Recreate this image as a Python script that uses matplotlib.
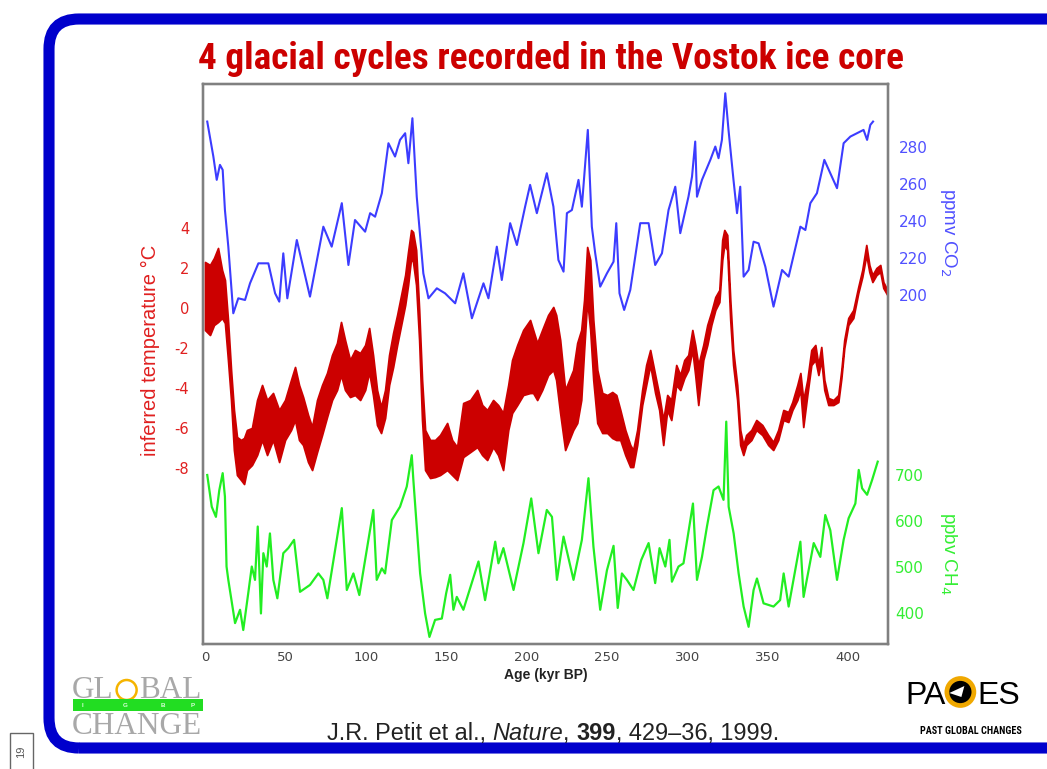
import matplotlib.pyplot as plt
from matplotlib import font_manager
from matplotlib.patches import FancyBboxPatch, Circle, Rectangle, Polygon

plt.rcParams["axes.unicode_minus"] = False

# ---------------------------------------------------------
# Vostok ice core records (age in kyr BP)
# ---------------------------------------------------------

co2_age = [
    1.4, 5.2, 7.3, 9.3, 11.0, 12.4, 14.5, 17.6, 20.7, 24.9,
    28.0, 33.2, 39.4, 43.6, 46.2, 48.7, 51.2, 57.1, 65.3, 73.6,
    78.8, 85.1, 89.2, 93.3, 99.6, 102.7, 105.8, 110.0, 114.1, 118.2,
    121.3, 124.5, 126.5, 129.0, 131.7, 135.8, 139.0, 144.2, 149.3, 155.6,
    160.7, 166.0, 173.2, 176.3, 181.5, 184.6, 189.8, 194.0, 199.1, 202.2,
    206.4, 212.6, 216.7, 219.8, 223.0, 225.1, 228.2, 232.3, 234.4, 238.1,
    240.6, 242.7, 245.8, 250.0, 254.1, 255.8, 257.8, 260.7, 264.5, 270.7,
    275.9, 280.0, 284.2, 288.3, 292.5, 295.6, 300.7, 302.9, 304.9, 306.0,
    309.1, 314.3, 317.4, 319.4, 321.5, 323.6, 325.6, 328.7, 330.9, 332.9,
    335.0, 338.1, 341.2, 344.3, 348.5, 353.6, 358.9, 363.0, 370.3, 373.4,
    376.5, 380.6, 385.2, 388.9, 393.1, 397.2, 401.4, 409.6, 411.8, 413.8, 415.5,
]
co2_ppmv = [
    293.7, 274.8, 262.2, 270.3, 267.6, 245.9, 226.1, 190.1, 198.2, 197.3,
    206.3, 217.1, 217.1, 200.9, 196.4, 222.5, 198.2, 229.7, 199.1, 236.9,
    226.1, 249.6, 216.2, 240.5, 234.2, 244.2, 242.3, 255.0, 282.0, 274.8,
    283.8, 287.4, 271.2, 295.5, 253.1, 211.7, 198.2, 203.6, 200.9, 195.5,
    211.7, 187.4, 206.3, 198.2, 226.1, 208.1, 238.8, 227.0, 247.7, 259.5,
    244.2, 265.8, 247.7, 218.9, 212.6, 244.2, 245.9, 262.2, 247.7, 289.2,
    236.9, 222.5, 204.5, 211.7, 218.0, 238.8, 200.9, 191.9, 202.7, 238.8,
    238.8, 216.2, 222.5, 245.9, 258.5, 233.4, 253.1, 263.9, 282.9, 253.1,
    262.2, 273.0, 280.2, 273.9, 283.8, 309.0, 289.2, 262.2, 244.2, 258.5,
    209.9, 213.5, 228.8, 227.9, 215.3, 193.7, 213.5, 209.9, 236.9, 235.1,
    249.6, 255.0, 273.0, 265.8, 257.7, 282.0, 285.6, 289.2, 283.8, 291.9, 293.7,
]

# temperature is high resolution: keep the upper / lower swing of the record
temp_age = [
    0.0, 3.1, 5.6, 8.1, 10.6, 12.4, 14.3, 16.2, 18.0, 19.9,
    22.4, 24.3, 26.1, 29.2, 32.4, 35.5, 38.6, 42.3, 46.1, 49.8,
    53.5, 56.0, 58.5, 61.0, 64.1, 66.6, 69.7, 72.8, 75.9, 79.0,
    82.1, 84.6, 87.1, 90.2, 93.3, 96.5, 99.6, 102.1, 104.5, 107.0,
    109.5, 112.0, 114.5, 117.0, 119.5, 122.0, 124.5, 126.3, 128.2, 129.4,
    131.3, 133.2, 135.0, 136.9, 140.0, 143.1, 146.2, 150.6, 153.7, 156.8,
    160.6, 165.0, 169.3, 172.4, 175.5, 179.2, 182.3, 185.4, 188.6, 191.0,
    194.2, 197.9, 202.2, 204.1, 206.6, 209.7, 213.4, 216.6, 218.4, 220.9,
    224.0, 226.5, 229.0, 231.5, 234.0, 235.8, 237.7, 239.6, 241.5, 244.0,
    247.1, 250.2, 253.3, 255.8, 258.3, 261.4, 264.5, 266.3, 268.8, 271.9,
    274.4, 276.9, 280.0, 282.5, 285.0, 287.5, 290.0, 293.1, 295.6, 298.1,
    300.6, 303.1, 304.9, 306.8, 309.9, 312.4, 314.9, 317.4, 319.9, 321.7,
    323.0, 324.8, 326.7, 328.5, 331.0, 332.9, 334.8, 336.6, 339.8, 342.9,
    346.6, 350.3, 353.4, 356.5, 359.7, 362.8, 365.3, 368.4, 370.3, 372.1,
    374.6, 377.1, 379.6, 381.5, 383.3, 385.2, 387.7, 390.8, 393.9, 395.8,
    397.6, 400.1, 403.2, 406.3, 408.8, 411.3, 413.2, 415.1, 417.6, 420.0,
    421.9, 424.4,
]
temp_upper = [
    2.3, 2.15, 2.5, 3.0, 1.9, 1.4, -0.6, -3.1, -5.1, -6.45,
    -6.6, -6.5, -6.1, -6.0, -4.6, -3.85, -4.6, -4.25, -5.1, -4.6,
    -3.6, -2.95, -3.85, -4.45, -5.35, -5.95, -4.6, -3.85, -3.25, -2.35,
    -1.75, -0.7, -1.6, -2.6, -2.1, -2.25, -1.85, -1.0, -2.35, -4.1,
    -4.95, -4.1, -2.35, -1.25, -0.35, 0.65, 1.65, 2.8, 3.9, 3.8,
    2.9, -0.1, -3.6, -6.1, -6.6, -6.6, -6.35, -5.75, -6.6, -6.95,
    -4.75, -4.6, -4.1, -4.85, -5.1, -4.6, -4.85, -5.25, -3.85, -2.6,
    -1.85, -1.1, -0.6, -1.1, -1.75, -1.1, -0.35, 0.05, -0.35, -1.6,
    -4.1, -3.6, -3.1, -1.75, -1.1, 0.4, 3.05, 2.4, -0.6, -3.1,
    -4.25, -4.35, -4.2, -4.35, -5.1, -6.1, -6.85, -7.1, -6.1, -4.1,
    -2.85, -2.1, -3.35, -4.35, -5.6, -4.35, -4.6, -2.85, -3.35, -2.6,
    -2.35, -1.1, -1.85, -2.85, -1.85, -0.85, -0.2, 0.55, 0.9, 3.4,
    3.9, 3.65, 0.4, -2.1, -3.85, -6.1, -6.85, -6.35, -6.1, -5.6,
    -5.85, -6.35, -6.7, -6.1, -5.1, -5.2, -4.7, -3.85, -3.25, -4.6,
    -3.6, -2.1, -1.85, -2.85, -1.95, -3.6, -4.5, -4.6, -4.35, -3.1,
    -1.6, -0.5, -0.1, 1.05, 1.9, 3.15, 2.15, 1.65, 2.0, 2.15,
    1.3, 0.9,
]
temp_lower = [
    -1.1, -1.35, -0.85, -0.7, -0.5, -0.75, -2.6, -4.6, -7.1, -8.35,
    -8.6, -8.8, -8.1, -7.85, -7.35, -6.6, -7.35, -6.6, -7.7, -6.6,
    -6.1, -5.6, -6.6, -6.85, -7.7, -8.1, -7.2, -6.35, -5.45, -4.6,
    -4.1, -3.35, -4.1, -4.45, -4.35, -4.6, -4.1, -3.2, -4.35, -5.85,
    -6.25, -5.5, -3.85, -2.95, -1.85, -0.85, 0.15, 1.15, 2.5, 2.3,
    1.15, -1.6, -5.6, -8.1, -8.5, -8.45, -8.35, -8.1, -8.35, -8.6,
    -7.45, -7.2, -6.95, -7.35, -7.6, -6.95, -7.35, -8.1, -6.1, -5.25,
    -4.85, -4.35, -4.25, -4.25, -4.6, -4.1, -3.35, -3.1, -3.6, -5.25,
    -7.1, -6.6, -6.1, -5.75, -4.6, -2.1, 0.4, -1.1, -3.6, -5.75,
    -6.25, -6.25, -6.5, -6.6, -6.6, -7.35, -7.95, -7.95, -6.85, -4.85,
    -3.85, -2.85, -4.25, -5.1, -6.85, -5.1, -5.6, -3.85, -4.1, -3.5,
    -3.1, -2.1, -3.35, -4.85, -2.6, -1.85, -0.85, -0.1, 0.3, 2.4,
    3.15, 2.9, -0.6, -2.85, -4.6, -6.85, -7.35, -6.85, -6.6, -6.1,
    -6.35, -6.85, -7.1, -6.6, -5.6, -5.7, -5.1, -4.6, -4.1, -5.95,
    -4.35, -2.85, -2.6, -3.35, -2.6, -4.1, -4.85, -4.85, -4.7, -3.5,
    -2.0, -0.85, -0.5, 0.75, 1.55, 2.65, 1.8, 1.3, 1.65, 1.8,
    1.0, 0.65,
]

ch4_age = [
    1.4, 4.2, 6.8, 8.9, 11.0, 12.4, 13.4, 14.5, 18.7, 21.8,
    23.8, 26.9, 29.1, 31.1, 32.8, 34.8, 36.3, 38.4, 40.4, 42.5,
    45.0, 48.7, 51.8, 55.4, 59.1, 65.3, 70.5, 73.6, 76.1, 85.1,
    88.2, 92.3, 96.0, 104.7, 106.8, 110.0, 112.0, 116.2, 121.3, 125.5,
    128.6, 129.6, 133.8, 136.9, 139.6, 143.1, 147.3, 150.0, 152.5, 154.5,
    156.6, 160.7, 170.1, 174.2, 180.5, 182.5, 185.6, 191.9, 198.1, 202.9,
    207.4, 212.6, 215.8, 218.9, 223.0, 229.2, 234.4, 238.5, 241.6, 245.8,
    250.0, 254.1, 256.7, 259.3, 262.4, 266.5, 271.3, 275.9, 280.0, 282.7,
    286.3, 288.9, 290.4, 294.5, 297.6, 303.5, 306.0, 309.1, 312.2, 316.3,
    319.4, 322.5, 324.2, 325.7, 328.8, 331.9, 335.0, 338.1, 341.2, 343.3,
    347.4, 353.6, 357.7, 359.9, 363.0, 370.3, 372.3, 378.6, 382.7, 385.8,
    388.9, 393.1, 397.2, 400.3, 404.5, 406.6, 408.7, 411.8, 414.9, 418.4,
]
ch4_ppbv = [
    700, 631, 609, 667, 704, 653, 501, 472, 378, 407,
    363, 443, 501, 472, 588, 399, 530, 501, 573, 472,
    432, 530, 541, 559, 446, 461, 486, 472, 432, 628,
    450, 486, 439, 624, 472, 497, 486, 602, 631, 675,
    743, 689, 486, 399, 348, 385, 388, 443, 483, 407,
    435, 407, 512, 428, 555, 508, 541, 450, 552, 649,
    530, 624, 609, 472, 566, 472, 559, 693, 544, 407,
    493, 546, 411, 486, 472, 450, 515, 552, 465, 541,
    501, 559, 468, 501, 508, 638, 472, 522, 588, 667,
    675, 646, 816, 631, 573, 486, 414, 370, 450, 475,
    421, 414, 428, 486, 414, 555, 435, 552, 522, 613,
    580, 472, 559, 606, 638, 711, 671, 657, 689, 729,
]

age_ticks = [0, 50, 100, 150, 200, 250, 300, 350, 400]
temp_ticks = [-8, -6, -4, -2, 0, 2, 4]
co2_ticks = [200, 220, 240, 260, 280]
ch4_ticks = [400, 500, 600, 700]

RED = "#cc0000"
BLUE = "#3c3cff"
GREEN = "#22ee22"
SANS = ["Liberation Sans", "DejaVu Sans"]
SERIF = ["Liberation Serif", "DejaVu Serif"]

# a condensed face for the headline if one is installed
installed = {f.name for f in font_manager.fontManager.ttflist}
narrow = [n for n in ["Liberation Sans Narrow", "DejaVu Sans Condensed",
                      "Roboto Condensed", "Open Sans Condensed"] if n in installed]
TITLE_FONT = narrow[:1] + SANS

W, H = 1047, 769

fig = plt.figure(figsize=(W / 100, H / 100), dpi=100)
fig.patch.set_facecolor("white")
px = fig.dpi_scale_trans  # inches; 1 inch = 100 px
renderer = fig.canvas.get_renderer()


def fy(y):
    # pixel row (from top) -> inches from bottom
    return (H - y) / 100


def width_px(t):
    return t.get_window_extent(renderer).width


# ---------------------------------------------------------
# slide frame
# ---------------------------------------------------------
frame = FancyBboxPatch((0.49, fy(748)), 11.0, (748 - 19) / 100,
                       boxstyle="round,pad=0,rounding_size=0.30",
                       transform=px, fill=False, ec="#0000cc", lw=8,
                       zorder=0)
fig.add_artist(frame)

fig.add_artist(Rectangle((0.10, fy(775)), 0.23, 0.42, transform=px,
                         fill=False, ec="#666666", lw=1))
fig.text(0.215, fy(752), "19", transform=px, rotation=90, ha="center",
         va="center", fontsize=8, color="#555555", family=SANS)

title = fig.text(551.5 / W, 1 - 59 / H,
                 "4 glacial cycles recorded in the Vostok ice core",
                 ha="center", va="center", fontsize=23, color=RED,
                 weight="semibold", family=TITLE_FONT)
title.set_fontsize(23 * 707 / width_px(title))

# ---------------------------------------------------------
# plot panel
# ---------------------------------------------------------
ax = fig.add_axes([203 / W, 1 - 644 / H, 685 / W, 560 / H])
ax.set_xlim(-1.24, 424.8)
ax.set_ylim(-16.8, 11.2)

ax.fill_between(temp_age, temp_lower, temp_upper, color=RED, lw=1.3,
                edgecolor=RED, zorder=3)

ax.set_xticks(age_ticks)
ax.set_yticks(temp_ticks)
ax.tick_params(axis="x", length=0, pad=5, labelsize=9.5, labelcolor="#444444")
ax.tick_params(axis="y", length=0, pad=10, labelsize=10.5, labelcolor="#e02020")
for lab in ax.get_yticklabels() + ax.get_xticklabels():
    lab.set_family(["DejaVu Sans"])
ax.set_xlabel("Age (kyr BP)", fontsize=10, weight="bold", color="#222222",
              family=SANS, labelpad=3)
ax.set_ylabel("inferred temperature °C", fontsize=14.5, color="#e02020",
              family=SANS)
ax.yaxis.set_label_coords(-0.077, 0.525)

ax_co2 = ax.twinx()
ax_co2.set_ylim(11.4, 314)
ax_co2.plot(co2_age, co2_ppmv, color=BLUE, lw=1.5, zorder=3)
ax_co2.set_yticks(co2_ticks)
ax_co2.tick_params(axis="y", length=0, pad=8, labelsize=11, labelcolor="#5050ff")
ax_co2.set_ylabel("ppmv CO$_2$", fontsize=13.5, color="#5050ff", rotation=-90,
                  family=SANS)
ax_co2.yaxis.set_label_coords(1.0876, 0.7357)

ax_ch4 = ax.twinx()
ax_ch4.set_ylim(332.6, 1550)
ax_ch4.plot(ch4_age, ch4_ppbv, color=GREEN, lw=1.6, zorder=3)
ax_ch4.set_yticks(ch4_ticks)
ax_ch4.tick_params(axis="y", length=0, pad=5, labelsize=11, labelcolor="#33ee33")
ax_ch4.set_ylabel("ppbv CH$_4$", fontsize=13.5, color="#33ee33", rotation=-90,
                  family=SANS)
ax_ch4.yaxis.set_label_coords(1.0876, 0.1625)

for lbl in (ax.yaxis.label, ax_co2.yaxis.label, ax_ch4.yaxis.label):
    lbl.set_rotation_mode("anchor")
    lbl.set_ha("center")
    lbl.set_va("center")

for a in (ax_co2, ax_ch4):
    for lab in a.get_yticklabels():
        lab.set_family(["DejaVu Sans"])

for a in (ax, ax_co2, ax_ch4):
    for sp in a.spines.values():
        sp.set_color("#808080")
        sp.set_linewidth(1.6)

# ---------------------------------------------------------
# logos and reference
# ---------------------------------------------------------
grey = "#a8a8a8"
gl = fig.text(0.72, fy(698), "GL", transform=px, fontsize=22.5, color=grey,
              family=SERIF, va="baseline")
x_o = 72 + width_px(gl) + 13
fig.add_artist(Circle((x_o / 100, fy(690)), 0.10, transform=px, fill=False,
                      ec="#f5b400", lw=1.8))
fig.text((x_o + 12) / 100, fy(698), "BAL", transform=px, fontsize=22.5,
         color=grey, family=SERIF, va="baseline")
fig.add_artist(Rectangle((0.73, fy(711)), 1.30, 0.12, transform=px,
                         fc="#22dd22", ec="none"))
for xi, ch in zip([0.82, 1.25, 1.63, 1.93], "IGBP"):
    fig.text(xi, fy(705.5), ch, transform=px, fontsize=4.5, color="#d8ffd8",
             ha="center", va="center", weight="bold", family=SANS)
fig.text(0.72, fy(734), "CHANGE", transform=px, fontsize=22.5, color=grey,
         family=SERIF, va="baseline")

pa = fig.text(9.05, fy(704), "PA", transform=px, fontsize=23, color="black",
              family=SANS, va="baseline")
x_g = 905 + width_px(pa) + 15
fig.add_artist(Circle((x_g / 100, fy(692)), 0.135, transform=px, fc="black",
                      ec="#f0a800", lw=3.4))
fig.add_artist(Polygon([((x_g - 11) / 100, fy(693)), ((x_g + 4) / 100, fy(686)),
                        ((x_g + 1) / 100, fy(697))],
                       closed=True, transform=px, fc="white", ec="none"))
fig.text((x_g + 17) / 100, fy(704), "ES", transform=px, fontsize=23,
         color="black", family=SANS, va="baseline")
fig.text(9.71, fy(731), "PAST GLOBAL CHANGES", transform=px, fontsize=7.3,
         color="black", weight="bold", family=TITLE_FONT, ha="center",
         va="center")

# citation line: plain / italic / bold pieces placed end to end
x = 3.27
pieces = [("J.R. Petit et al., ", "normal", "normal"),
          ("Nature", "italic", "normal"),
          (", ", "normal", "normal"),
          ("399", "normal", "bold"),
          (", 429–36, 1999.", "normal", "normal")]
for s, style, weight in pieces:
    t = fig.text(x, fy(740), s, transform=px, fontsize=16.9, style=style,
                 weight=weight, family=SANS, color="#222222", va="baseline")
    x += width_px(t) / 100

fig.savefig("out.png", dpi=100)
